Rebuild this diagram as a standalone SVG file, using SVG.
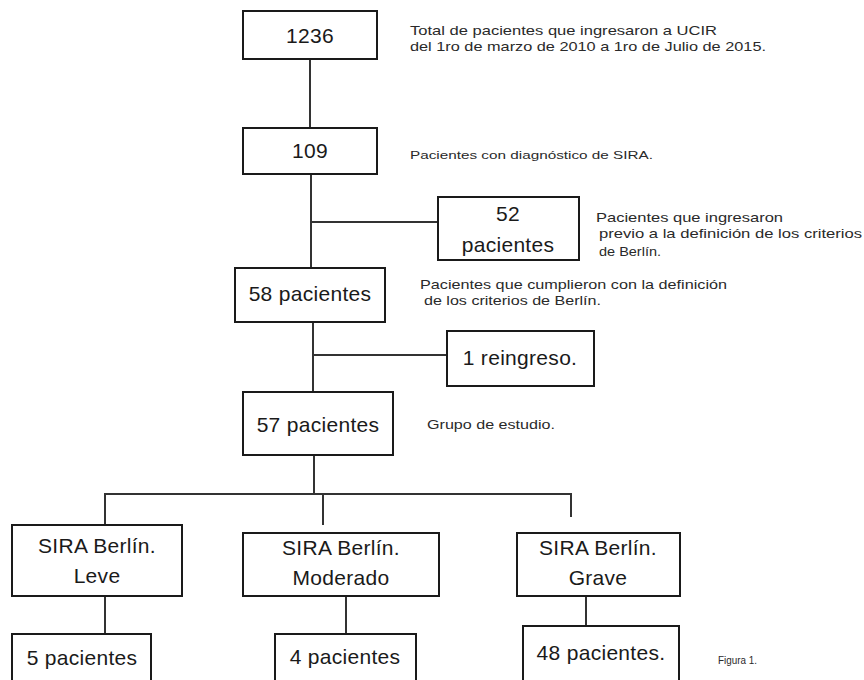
<svg xmlns="http://www.w3.org/2000/svg" width="864" height="680" viewBox="0 0 864 680">
<style>
.box{fill:#fff;stroke:#1a1a1a;stroke-width:2}
.bt{font-family:"Liberation Sans",Arial,sans-serif;font-size:21px;fill:#1a1a1a;text-anchor:middle;letter-spacing:0.3px}
.note{font-family:"Liberation Sans",Arial,sans-serif;font-size:13px;fill:#2a2a2a}
.con{stroke:#333;stroke-width:2;fill:none}
</style>
<rect width="864" height="680" fill="#fff"/>
<g id="connectors">
<line class="con" x1="310" y1="59" x2="310" y2="128"/>
<line class="con" x1="311" y1="174" x2="311" y2="268"/>
<line class="con" x1="311" y1="222" x2="438" y2="222"/>
<line class="con" x1="313" y1="322" x2="313" y2="392"/>
<line class="con" x1="313" y1="355" x2="447" y2="355"/>
<line class="con" x1="314" y1="455" x2="314" y2="494"/>
<polyline class="con" points="105,525 105,494 571,494 571,517"/>
<line class="con" x1="323" y1="494" x2="323" y2="525"/>
<line class="con" x1="105" y1="596" x2="105" y2="634"/>
<line class="con" x1="346" y1="596" x2="346" y2="634"/>
<line class="con" x1="586" y1="596" x2="586" y2="626"/>
</g>
<g id="n1236"><rect class="box" x="243" y="11" width="134" height="48"/><text class="bt" x="310" y="43">1236</text></g>
<g id="n109"><rect class="box" x="243" y="128" width="134" height="46"/><text class="bt" x="310" y="158">109</text></g>
<g id="n52"><rect class="box" x="438" y="197" width="141" height="63"/><text class="bt" x="508" y="221">52</text><text class="bt" x="508" y="252">pacientes</text></g>
<g id="n58"><rect class="box" x="235" y="268" width="150" height="54"/><text class="bt" x="310" y="301">58 pacientes</text></g>
<g id="n1reingreso"><rect class="box" x="447" y="331" width="147" height="55"/><text class="bt" x="520" y="365">1 reingreso.</text></g>
<g id="n57"><rect class="box" x="243" y="392" width="150" height="63"/><text class="bt" x="318" y="432">57 pacientes</text></g>
<g id="leve"><rect class="box" x="12" y="525" width="170" height="71"/><text class="bt" x="97" y="553">SIRA Berlín.</text><text class="bt" x="97" y="583">Leve</text></g>
<g id="moderado"><rect class="box" x="243" y="533" width="196" height="63"/><text class="bt" x="341" y="555">SIRA Berlín.</text><text class="bt" x="341" y="585">Moderado</text></g>
<g id="grave"><rect class="box" x="517" y="533" width="163" height="63"/><text class="bt" x="598" y="555">SIRA Berlín.</text><text class="bt" x="598" y="585">Grave</text></g>
<g id="p5"><rect class="box" x="12" y="634" width="139" height="50"/><text class="bt" x="82" y="665">5 pacientes</text></g>
<g id="p4"><rect class="box" x="275" y="634" width="141" height="50"/><text class="bt" x="345" y="664">4 pacientes</text></g>
<g id="p48"><rect class="box" x="523" y="626" width="156" height="58"/><text class="bt" x="601" y="660">48 pacientes.</text></g>
<g id="notes">
<text class="note" x="410" y="35" textLength="307" lengthAdjust="spacingAndGlyphs">Total de pacientes  que ingresaron a UCIR</text>
<text class="note" x="410" y="51" textLength="356" lengthAdjust="spacingAndGlyphs">del 1ro de marzo de 2010 a 1ro de Julio de 2015.</text>
<text class="note" x="410" y="159" textLength="243" lengthAdjust="spacingAndGlyphs" style="font-size:11.5px">Pacientes con diagnóstico de SIRA.</text>
<text class="note" x="596" y="222" textLength="187" lengthAdjust="spacingAndGlyphs">Pacientes que ingresaron</text>
<text class="note" x="599" y="238" textLength="263" lengthAdjust="spacingAndGlyphs">previo a la definición de los criterios</text>
<text class="note" x="599" y="256" textLength="62" lengthAdjust="spacingAndGlyphs">de Berlín.</text>
<text class="note" x="420" y="289" textLength="307" lengthAdjust="spacingAndGlyphs">Pacientes que cumplieron con la definición</text>
<text class="note" x="424" y="305" textLength="177" lengthAdjust="spacingAndGlyphs">de los criterios de Berlín.</text>
<text class="note" x="427" y="429" textLength="128" lengthAdjust="spacingAndGlyphs">Grupo de estudio.</text>
<text class="note" x="718" y="664" textLength="39" lengthAdjust="spacingAndGlyphs" style="font-size:10.5px">Figura 1.</text>
</g>
</svg>
